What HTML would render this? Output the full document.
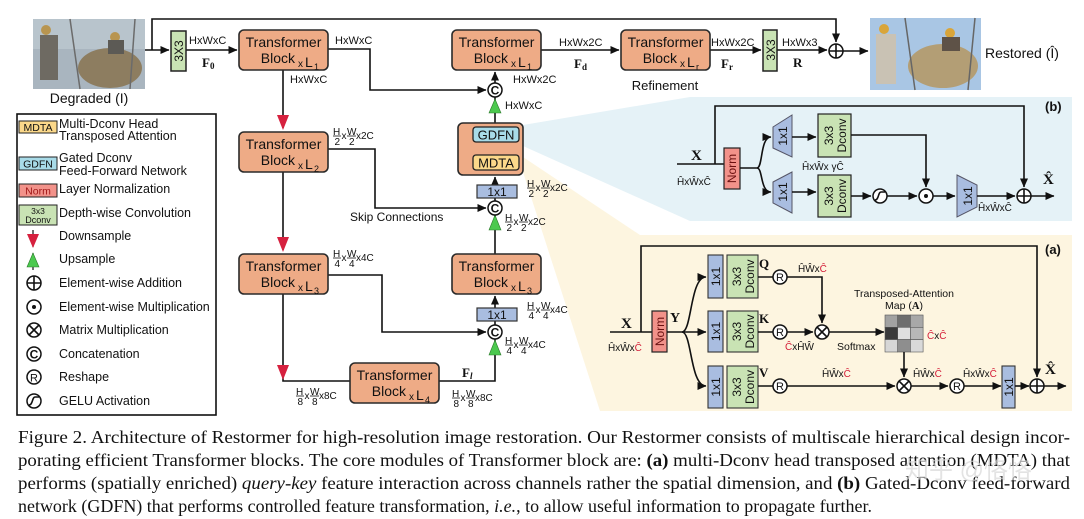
<!DOCTYPE html>
<html><head><meta charset="utf-8"><style>
html,body{margin:0;padding:0;background:#fff;}
svg{display:block;}
text{font-family:"Liberation Sans",sans-serif;fill:#111;}
.s{font-family:"Liberation Serif",serif;font-weight:bold;}
.cap{font-family:"Liberation Serif",serif;font-size:17.5px;fill:#111;}
.ln{stroke:#111;stroke-width:1.6;fill:none;}
.tb{fill:#eeab86;stroke:#2a2a2a;stroke-width:1.6;}
.c{fill:#fff;stroke:#111;stroke-width:1.5;}
.r{fill:#d6213f;}
.g{fill:#4cc94f;stroke:#2a7a2a;stroke-width:.6;}
.red{fill:#d4203a;}
</style></head><body>
<svg width="1084" height="519" viewBox="0 0 1084 519" xmlns="http://www.w3.org/2000/svg">
<defs>
<marker id="a" markerWidth="9" markerHeight="8" refX="8.5" refY="4" orient="auto" markerUnits="userSpaceOnUse"><path d="M0,0 L9,4 L0,8 z" fill="#111"/></marker>
</defs>

<!-- panel backgrounds -->
<polygon points="523,125 690,97 1072,97 1072,221 690,221 523,146" fill="#e5f2f7"/>
<polygon points="523,157 640,235 1072,235 1072,411 600,411 523,172" fill="#fdf5e0"/>

<!-- images -->
<g>
<rect x="33" y="19" width="112" height="70" fill="#a9b5bf"/>
<rect x="33" y="19" width="112" height="30" fill="#b8c4cc"/>
<ellipse cx="110" cy="68" rx="32" ry="20" fill="#8d7d60"/>
<rect x="40" y="35" width="18" height="45" fill="#6e6a62"/>
<circle cx="46" cy="30" r="5" fill="#b89550"/>
<circle cx="115" cy="37" r="5" fill="#b89550"/>
<rect x="108" y="40" width="16" height="14" fill="#5c5a55"/>
<line x1="70" y1="19" x2="80" y2="89" stroke="#6b6b6b" stroke-width="1.5"/>
<line x1="135" y1="19" x2="130" y2="89" stroke="#6b6b6b" stroke-width="1.5"/>
</g>
<text x="89" y="103" font-size="14" text-anchor="middle">Degraded (I)</text>

<g>
<rect x="870" y="18" width="111" height="72" fill="#a9c6e4"/>
<ellipse cx="943" cy="66" rx="35" ry="22" fill="#b39e75"/>
<rect x="876" y="34" width="20" height="50" fill="#c9c2b4"/>
<circle cx="884" cy="29" r="5" fill="#d9a53a"/>
<circle cx="950" cy="33" r="5" fill="#d9a53a"/>
<rect x="942" y="37" width="18" height="14" fill="#5e5247"/>
<line x1="905" y1="18" x2="915" y2="90" stroke="#666" stroke-width="1.5"/>
<line x1="975" y1="18" x2="968" y2="90" stroke="#666" stroke-width="1.5"/>
</g>
<text x="985" y="58" font-size="14">Restored (Î)</text>

<!-- main connectors -->
<path class="ln" d="M145,50 H169" marker-end="url(#a)"/>
<path class="ln" d="M152,50 V19 H836 V42" marker-end="url(#a)"/>
<path class="ln" d="M186,50 H237" marker-end="url(#a)"/>
<path class="ln" d="M328,49 H370 V90 H486" marker-end="url(#a)"/>
<path class="ln" d="M283,70 V128"/>
<polygon class="r" points="277,115 289,115 283,130"/>
<path class="ln" d="M328,149 H375 V208 H486" marker-end="url(#a)"/>
<path class="ln" d="M283,172 V250"/>
<polygon class="r" points="277,237 289,237 283,252"/>
<path class="ln" d="M328,275 H382 V332 H486" marker-end="url(#a)"/>
<path class="ln" d="M283,294 V381 H350"/>
<polygon class="r" points="277,365 289,365 283,380"/>
<path class="ln" d="M438,381 H495 V339"/>
<polygon class="g" points="489,355 501,355 495,340"/>
<path class="ln" d="M495,325 V320"/>
<path class="ln" d="M495,308 V296" marker-end="url(#a)"/>
<path class="ln" d="M495,254 V215"/>
<polygon class="g" points="489,230 501,230 495,215"/>
<path class="ln" d="M495,201 V198"/>
<path class="ln" d="M495,185 V177" marker-end="url(#a)"/>
<path class="ln" d="M495,155 V144" marker-end="url(#a)"/>
<path class="ln" d="M495,123 V97"/>
<polygon class="g" points="489,113 501,113 495,99"/>
<path class="ln" d="M495,83 V72" marker-end="url(#a)"/>
<path class="ln" d="M540,50 H619" marker-end="url(#a)"/>
<path class="ln" d="M710,50 H761" marker-end="url(#a)"/>
<path class="ln" d="M777,50 H827" marker-end="url(#a)"/>
<path class="ln" d="M843,51 H868" marker-end="url(#a)"/>

<!-- 3x3 conv boxes -->
<rect x="171" y="31" width="15" height="40" fill="#c9e3b4" stroke="#222" stroke-width="1.5"/>
<text transform="translate(183,51) rotate(-90)" font-size="12" text-anchor="middle">3X3</text>
<rect x="763" y="30" width="14" height="41" fill="#c9e3b4" stroke="#222" stroke-width="1.5"/>
<text transform="translate(775,50) rotate(-90)" font-size="12" text-anchor="middle">3X3</text>

<!-- top labels -->
<text x="189" y="44" font-size="11">HxWxC</text>
<text x="202" y="67" class="s" font-size="13">F<tspan font-size="9" dy="2">0</tspan></text>
<text x="335" y="44" font-size="11">HxWxC</text>
<text x="290" y="83" font-size="11">HxWxC</text>
<text x="513" y="83" font-size="11">HxWx2C</text>
<text x="505" y="109" font-size="11">HxWxC</text>
<text x="559" y="46" font-size="11">HxWx2C</text>
<text x="574" y="68" class="s" font-size="13">F<tspan font-size="9" dy="2">d</tspan></text>
<text x="665" y="90" font-size="13" text-anchor="middle">Refinement</text>
<text x="711" y="46" font-size="11">HxWx2C</text>
<text x="721" y="68" class="s" font-size="13">F<tspan font-size="9" dy="2">r</tspan></text>
<text x="782" y="46" font-size="11">HxWx3</text>
<text x="793" y="67" class="s" font-size="13">R</text>
<text x="350" y="221" font-size="12">Skip Connections</text>
<text x="462" y="377" class="s" font-size="13">F<tspan font-size="9" dy="2" font-style="italic">l</tspan></text>

<!-- transformer blocks -->
<g font-size="14">
<rect class="tb" x="239" y="30" width="89" height="40" rx="5"/>
<text x="283.5" y="47" text-anchor="middle">Transformer</text><text x="295" y="63" text-anchor="end">Block</text><text x="298" y="67" font-size="10">x</text><text x="305" y="67">L</text><text x="314" y="70" font-size="9">1</text>
<rect class="tb" x="239" y="132" width="89" height="40" rx="5"/>
<text x="283.5" y="149" text-anchor="middle">Transformer</text><text x="295" y="165" text-anchor="end">Block</text><text x="298" y="169" font-size="10">x</text><text x="305" y="169">L</text><text x="314" y="172" font-size="9">2</text>
<rect class="tb" x="239" y="254" width="89" height="40" rx="5"/>
<text x="283.5" y="271" text-anchor="middle">Transformer</text><text x="295" y="287" text-anchor="end">Block</text><text x="298" y="291" font-size="10">x</text><text x="305" y="291">L</text><text x="314" y="294" font-size="9">3</text>
<rect class="tb" x="350" y="363" width="89" height="40" rx="5"/>
<text x="394.5" y="380" text-anchor="middle">Transformer</text><text x="406" y="396" text-anchor="end">Block</text><text x="409" y="400" font-size="10">x</text><text x="416" y="400">L</text><text x="425" y="403" font-size="9">4</text>
<rect class="tb" x="452" y="30" width="89" height="40" rx="5"/>
<text x="496.5" y="47" text-anchor="middle">Transformer</text><text x="508" y="63" text-anchor="end">Block</text><text x="511" y="67" font-size="10">x</text><text x="518" y="67">L</text><text x="527" y="70" font-size="9">1</text>
<rect class="tb" x="452" y="254" width="89" height="40" rx="5"/>
<text x="496.5" y="271" text-anchor="middle">Transformer</text><text x="508" y="287" text-anchor="end">Block</text><text x="511" y="291" font-size="10">x</text><text x="518" y="291">L</text><text x="527" y="294" font-size="9">3</text>
<rect class="tb" x="621" y="30" width="89" height="40" rx="5"/>
<text x="665.5" y="47" text-anchor="middle">Transformer</text><text x="677" y="63" text-anchor="end">Block</text><text x="680" y="67" font-size="10">x</text><text x="687" y="67">L</text><text x="696" y="70" font-size="9">r</text>
</g>

<!-- MDTA/GDFN box -->
<rect class="tb" x="458" y="123" width="65" height="52" rx="5"/>
<rect x="473" y="127" width="46" height="15" rx="3" fill="#a8dbe8" stroke="#222" stroke-width="1.3"/>
<text x="496" y="139.5" font-size="13" text-anchor="middle">GDFN</text>
<rect x="473" y="155" width="46" height="15" rx="3" fill="#fbd88a" stroke="#222" stroke-width="1.3"/>
<text x="496" y="167.5" font-size="13" text-anchor="middle">MDTA</text>
<rect x="477" y="185" width="40" height="13" fill="#a9bde0" stroke="#333" stroke-width="1.2"/>
<text x="497" y="196" font-size="12" text-anchor="middle">1x1</text>
<rect x="477" y="308" width="40" height="13" fill="#a9bde0" stroke="#333" stroke-width="1.2"/>
<text x="497" y="319" font-size="12" text-anchor="middle">1x1</text>

<!-- concat circles -->
<g font-size="12" font-weight="bold" text-anchor="middle">
<circle class="c" cx="495" cy="90" r="7"/><text x="495" y="94.5">C</text>
<circle class="c" cx="495" cy="208" r="7"/><text x="495" y="212.5">C</text>
<circle class="c" cx="495" cy="332" r="7"/><text x="495" y="336.5">C</text>
</g>
<circle class="c" cx="836" cy="51" r="7"/><path class="ln" d="M829,51 H843 M836,44 V58"/>

<!-- fractions -->
<g font-size="10">
<g transform="translate(333,136)"><text x="0" y="-1">H</text><line x1="0" x2="8" y1="0" y2="0" stroke="#111" stroke-width=".8"/><text x="1.5" y="9">2</text><text x="8.5" y="3">x</text><text x="14" y="-1">W</text><line x1="14" x2="23" y1="0" y2="0" stroke="#111" stroke-width=".8"/><text x="16" y="9">2</text><text x="23" y="3">x2C</text></g>
<g transform="translate(333,258)"><text x="0" y="-1">H</text><line x1="0" x2="8" y1="0" y2="0" stroke="#111" stroke-width=".8"/><text x="1.5" y="9">4</text><text x="8.5" y="3">x</text><text x="14" y="-1">W</text><line x1="14" x2="23" y1="0" y2="0" stroke="#111" stroke-width=".8"/><text x="16" y="9">4</text><text x="23" y="3">x4C</text></g>
<g transform="translate(527,188)"><text x="0" y="-1">H</text><line x1="0" x2="8" y1="0" y2="0" stroke="#111" stroke-width=".8"/><text x="1.5" y="9">2</text><text x="8.5" y="3">x</text><text x="14" y="-1">W</text><line x1="14" x2="23" y1="0" y2="0" stroke="#111" stroke-width=".8"/><text x="16" y="9">2</text><text x="23" y="3">x2C</text></g>
<g transform="translate(505,222)"><text x="0" y="-1">H</text><line x1="0" x2="8" y1="0" y2="0" stroke="#111" stroke-width=".8"/><text x="1.5" y="9">2</text><text x="8.5" y="3">x</text><text x="14" y="-1">W</text><line x1="14" x2="23" y1="0" y2="0" stroke="#111" stroke-width=".8"/><text x="16" y="9">2</text><text x="23" y="3">x2C</text></g>
<g transform="translate(527,310)"><text x="0" y="-1">H</text><line x1="0" x2="8" y1="0" y2="0" stroke="#111" stroke-width=".8"/><text x="1.5" y="9">4</text><text x="8.5" y="3">x</text><text x="14" y="-1">W</text><line x1="14" x2="23" y1="0" y2="0" stroke="#111" stroke-width=".8"/><text x="16" y="9">4</text><text x="23" y="3">x4C</text></g>
<g transform="translate(505,345)"><text x="0" y="-1">H</text><line x1="0" x2="8" y1="0" y2="0" stroke="#111" stroke-width=".8"/><text x="1.5" y="9">4</text><text x="8.5" y="3">x</text><text x="14" y="-1">W</text><line x1="14" x2="23" y1="0" y2="0" stroke="#111" stroke-width=".8"/><text x="16" y="9">4</text><text x="23" y="3">x4C</text></g>
<g transform="translate(296,396)"><text x="0" y="-1">H</text><line x1="0" x2="8" y1="0" y2="0" stroke="#111" stroke-width=".8"/><text x="1.5" y="9">8</text><text x="8.5" y="3">x</text><text x="14" y="-1">W</text><line x1="14" x2="23" y1="0" y2="0" stroke="#111" stroke-width=".8"/><text x="16" y="9">8</text><text x="23" y="3">x8C</text></g>
<g transform="translate(452,398)"><text x="0" y="-1">H</text><line x1="0" x2="8" y1="0" y2="0" stroke="#111" stroke-width=".8"/><text x="1.5" y="9">8</text><text x="8.5" y="3">x</text><text x="14" y="-1">W</text><line x1="14" x2="23" y1="0" y2="0" stroke="#111" stroke-width=".8"/><text x="16" y="9">8</text><text x="23" y="3">x8C</text></g>
</g>

<!-- legend -->
<rect x="17" y="114" width="199" height="301" fill="#fff" stroke="#111" stroke-width="1.6"/>
<g font-size="12.5">
<rect x="19" y="121" width="38" height="12" fill="#fbd88a" stroke="#222"/><text x="38" y="131" font-size="10.5" text-anchor="middle">MDTA</text>
<text x="59" y="128">Multi-Dconv Head</text><text x="59" y="140">Transposed Attention</text>
<rect x="19" y="157" width="38" height="13" fill="#a8dbe8" stroke="#222"/><text x="38" y="167.5" font-size="10.5" text-anchor="middle">GDFN</text>
<text x="59" y="162">Gated Dconv</text><text x="59" y="175">Feed-Forward Network</text>
<rect x="19" y="184" width="38" height="13" fill="#f2928a" stroke="#222"/><text x="38" y="194.5" font-size="10.5" text-anchor="middle" fill="#a01818" style="fill:#a01818">Norm</text>
<text x="59" y="193">Layer Normalization</text>
<rect x="19" y="205" width="38" height="20" fill="#c9e3b4" stroke="#222"/><text x="38" y="214" font-size="8.5" text-anchor="middle">3x3</text><text x="38" y="223" font-size="9" text-anchor="middle">Dconv</text>
<text x="59" y="217">Depth-wise Convolution</text>
<line x1="33" y1="230" x2="33" y2="247" stroke="#111" stroke-width="1.2"/><polygon class="r" points="27,234 39,234 33,248"/>
<text x="59" y="240">Downsample</text>
<line x1="33" y1="253" x2="33" y2="270" stroke="#111" stroke-width="1.2"/><polygon class="g" points="27,267 39,267 33,253"/>
<text x="59" y="263">Upsample</text>
<circle class="c" cx="34" cy="283" r="7"/><path class="ln" d="M27,283 H41 M34,276 V290"/>
<text x="59" y="287">Element-wise Addition</text>
<circle class="c" cx="34" cy="307" r="7"/><circle cx="34" cy="307" r="2" fill="#111"/>
<text x="59" y="311">Element-wise Multiplication</text>
<circle class="c" cx="34" cy="330" r="7"/><path class="ln" d="M29,325 L39,335 M39,325 L29,335"/>
<text x="59" y="334">Matrix Multiplication</text>
<circle class="c" cx="34" cy="354" r="7"/><text x="34" y="358.5" font-size="12" font-weight="bold" text-anchor="middle">C</text>
<text x="59" y="358">Concatenation</text>
<circle class="c" cx="34" cy="377" r="7"/><text x="34" y="381.5" font-size="11" text-anchor="middle">R</text>
<text x="59" y="381">Reshape</text>
<circle class="c" cx="34" cy="401" r="7"/><path class="ln" d="M29,405 C33,405 32,397 35,397 C37,397 38,397 39,397" stroke-width="1.2"/>
<text x="59" y="405">GELU Activation</text>
</g>

<!-- panel (b) -->
<text x="1045" y="111" font-size="13" font-weight="bold">(b)</text>
<path class="ln" d="M715,164 V106 H1024 V187" marker-end="url(#a)"/>
<path class="ln" d="M677,164 H724"/>
<text x="691" y="160" class="s" font-size="15">X</text>
<text x="677" y="185" font-size="10">ĤxŴxĈ</text>
<rect x="724" y="148" width="16" height="41" fill="#f2928a" stroke="#222" stroke-width="1.2"/>
<text transform="translate(736,168.5) rotate(-90)" font-size="12" text-anchor="middle" style="fill:#6a1010">Norm</text>
<path class="ln" d="M740,168 H757 C763,168 760,137 771,137" marker-end="url(#a)"/>
<path class="ln" d="M757,168 C763,168 760,192 771,192" marker-end="url(#a)"/>
<polygon points="773,127 792,115 792,157 773,148" fill="#a9bde0" stroke="#556" stroke-width="1"/>
<text transform="translate(787,136) rotate(-90)" font-size="12" text-anchor="middle">1x1</text>
<polygon points="773,182 792,172 792,213 773,203" fill="#a9bde0" stroke="#556" stroke-width="1"/>
<text transform="translate(787,192) rotate(-90)" font-size="12" text-anchor="middle">1x1</text>
<path class="ln" d="M792,137 H816" marker-end="url(#a)"/>
<path class="ln" d="M792,192 H816" marker-end="url(#a)"/>
<rect x="818" y="114" width="33" height="43" fill="#c9e3b4" stroke="#222" stroke-width="1.2"/>
<text transform="translate(833,135.5) rotate(-90)" font-size="12" text-anchor="middle">3x3</text>
<text transform="translate(846,135.5) rotate(-90)" font-size="12" text-anchor="middle">Dconv</text>
<rect x="818" y="175" width="33" height="42" fill="#c9e3b4" stroke="#222" stroke-width="1.2"/>
<text transform="translate(833,196) rotate(-90)" font-size="12" text-anchor="middle">3x3</text>
<text transform="translate(846,196) rotate(-90)" font-size="12" text-anchor="middle">Dconv</text>
<text x="802" y="170" font-size="10">ĤxŴx γĈ</text>
<path class="ln" d="M851,135 H926 V187" marker-end="url(#a)"/>
<path class="ln" d="M851,196 H871" marker-end="url(#a)"/>
<circle class="c" cx="880" cy="196" r="7"/><path class="ln" d="M875,200 C879,200 878,192 881,192 L885,192" stroke-width="1.2"/>
<path class="ln" d="M887,196 H917" marker-end="url(#a)"/>
<circle class="c" cx="926" cy="196" r="7"/><circle cx="926" cy="196" r="2" fill="#111"/>
<path class="ln" d="M933,196 H955" marker-end="url(#a)"/>
<polygon points="957,175 977,185 977,207 957,217" fill="#a9bde0" stroke="#556" stroke-width="1"/>
<text transform="translate(972,196) rotate(-90)" font-size="12" text-anchor="middle">1x1</text>
<path class="ln" d="M977,196 H1015" marker-end="url(#a)"/>
<circle class="c" cx="1024" cy="196" r="7"/><path class="ln" d="M1017,196 H1031 M1024,189 V203"/>
<path class="ln" d="M1031,196 H1054" marker-end="url(#a)"/>
<text x="1043" y="184" class="s" font-size="15">X̂</text>
<text x="978" y="211" font-size="10">ĤxŴxĈ</text>

<!-- panel (a) -->
<text x="1045" y="254" font-size="13" font-weight="bold">(a)</text>
<path class="ln" d="M641,332 V246 H1037 V377" marker-end="url(#a)"/>
<path class="ln" d="M610,332 H652"/>
<text x="621" y="328" class="s" font-size="15">X</text>
<text x="608" y="351" font-size="10">ĤxŴx<tspan class="red">Ĉ</tspan></text>
<rect x="652" y="311" width="15" height="41" fill="#f2928a" stroke="#222" stroke-width="1.2"/>
<text transform="translate(664,331.5) rotate(-90)" font-size="12" text-anchor="middle" style="fill:#6a1010">Norm</text>
<text x="670" y="322" class="s" font-size="14">Y</text>
<path class="ln" d="M667,332 H706" marker-end="url(#a)"/>
<path class="ln" d="M682,332 C692,332 690,277 706,277" marker-end="url(#a)"/>
<path class="ln" d="M682,332 C692,332 690,386 706,386" marker-end="url(#a)"/>
<g font-size="12">
<rect x="708" y="255" width="15" height="43" fill="#a9bde0" stroke="#333" stroke-width="1.1"/><text transform="translate(720,276.5) rotate(-90)" text-anchor="middle">1x1</text>
<rect x="727" y="255" width="31" height="43" fill="#c9e3b4" stroke="#333" stroke-width="1.1"/><text transform="translate(741,276.5) rotate(-90)" text-anchor="middle">3x3</text><text transform="translate(754,276.5) rotate(-90)" text-anchor="middle">Dconv</text>
<rect x="708" y="311" width="15" height="41" fill="#a9bde0" stroke="#333" stroke-width="1.1"/><text transform="translate(720,331.5) rotate(-90)" text-anchor="middle">1x1</text>
<rect x="727" y="311" width="31" height="41" fill="#c9e3b4" stroke="#333" stroke-width="1.1"/><text transform="translate(741,331.5) rotate(-90)" text-anchor="middle">3x3</text><text transform="translate(754,331.5) rotate(-90)" text-anchor="middle">Dconv</text>
<rect x="708" y="366" width="15" height="42" fill="#a9bde0" stroke="#333" stroke-width="1.1"/><text transform="translate(720,387) rotate(-90)" text-anchor="middle">1x1</text>
<rect x="727" y="366" width="31" height="42" fill="#c9e3b4" stroke="#333" stroke-width="1.1"/><text transform="translate(741,387) rotate(-90)" text-anchor="middle">3x3</text><text transform="translate(754,387) rotate(-90)" text-anchor="middle">Dconv</text>
</g>
<text x="759" y="268" class="s" font-size="13">Q</text>
<text x="759" y="323" class="s" font-size="13">K</text>
<text x="759" y="377" class="s" font-size="13">V</text>
<path class="ln" d="M758,277 H773 M758,332 H773 M758,386 H773"/>
<g font-size="11" text-anchor="middle">
<circle class="c" cx="780" cy="277" r="7"/><text x="780" y="281">R</text>
<circle class="c" cx="780" cy="332" r="7"/><text x="780" y="336">R</text>
<circle class="c" cx="780" cy="386" r="7"/><text x="780" y="390">R</text>
<circle class="c" cx="957" cy="386" r="7"/><text x="957" y="390">R</text>
</g>
<path class="ln" d="M787,277 H822 V323" marker-end="url(#a)"/>
<path class="ln" d="M787,332 H813" marker-end="url(#a)"/>
<circle class="c" cx="822" cy="332" r="7"/><path class="ln" d="M817,327 L827,337 M827,327 L817,337"/>
<path class="ln" d="M829,332 H884" marker-end="url(#a)"/>
<text x="798" y="272" font-size="10">ĤŴx<tspan class="red">Ĉ</tspan></text>
<text x="785" y="350" font-size="10"><tspan class="red">Ĉ</tspan>xĤŴ</text>
<text x="837" y="350" font-size="10.5">Softmax</text>
<text x="904" y="297" font-size="10.5" text-anchor="middle">Transposed-Attention</text>
<text x="904" y="309" font-size="10.5" text-anchor="middle">Map (<tspan class="s">A</tspan>)</text>
<g stroke="#555" stroke-width=".6">
<rect x="885" y="315" width="12.7" height="12.3" fill="#a2a2a2"/><rect x="897.7" y="315" width="12.7" height="12.3" fill="#6e6e6e"/><rect x="910.4" y="315" width="12.7" height="12.3" fill="#a8a8a8"/>
<rect x="885" y="327.3" width="12.7" height="12.3" fill="#3a3a3a"/><rect x="897.7" y="327.3" width="12.7" height="12.3" fill="#e0e0e0"/><rect x="910.4" y="327.3" width="12.7" height="12.3" fill="#b8b8b8"/>
<rect x="885" y="339.6" width="12.7" height="12.4" fill="#d6d6d6"/><rect x="897.7" y="339.6" width="12.7" height="12.4" fill="#8e8e8e"/><rect x="910.4" y="339.6" width="12.7" height="12.4" fill="#d9d9d9"/>
</g>
<text x="927" y="339" font-size="10"><tspan class="red">Ĉ</tspan>x<tspan class="red">Ĉ</tspan></text>
<path class="ln" d="M904,352 V377" marker-end="url(#a)"/>
<path class="ln" d="M787,386 H895" marker-end="url(#a)"/>
<circle class="c" cx="904" cy="386" r="7"/><path class="ln" d="M899,381 L909,391 M909,381 L899,391"/>
<path class="ln" d="M911,386 H948" marker-end="url(#a)"/>
<path class="ln" d="M964,386 H1001" marker-end="url(#a)"/>
<rect x="1002" y="366" width="13" height="42" fill="#a9bde0" stroke="#333" stroke-width="1.1"/>
<text transform="translate(1013,387) rotate(-90)" font-size="12" text-anchor="middle">1x1</text>
<path class="ln" d="M1015,386 H1029" marker-end="url(#a)"/>
<circle class="c" cx="1037" cy="386" r="7"/><path class="ln" d="M1030,386 H1044 M1037,379 V393"/>
<path class="ln" d="M1044,386 H1066" marker-end="url(#a)"/>
<text x="1045" y="374" class="s" font-size="15">X̂</text>
<text x="822" y="377" font-size="10">ĤŴx<tspan class="red">Ĉ</tspan></text>
<text x="913" y="377" font-size="10">ĤŴx<tspan class="red">Ĉ</tspan></text>
<text x="963" y="377" font-size="10">ĤxŴx<tspan class="red">Ĉ</tspan></text>

<!-- caption -->
<text class="cap" x="18" y="443" textLength="1052" lengthAdjust="spacingAndGlyphs">Figure 2. Architecture of Restormer for high-resolution image restoration. Our Restormer consists of multiscale hierarchical design incor-</text>
<text class="cap" x="18" y="466" textLength="1052" lengthAdjust="spacingAndGlyphs">porating efficient Transformer blocks. The core modules of Transformer block are: <tspan font-weight="bold">(a)</tspan> multi-Dconv head transposed attention (MDTA) that</text>
<text class="cap" x="18" y="489" textLength="1052" lengthAdjust="spacingAndGlyphs">performs (spatially enriched) <tspan font-style="italic">query-key</tspan> feature interaction across channels rather the spatial dimension, and <tspan font-weight="bold">(b)</tspan> Gated-Dconv feed-forward</text>
<text class="cap" x="18" y="512" textLength="854" lengthAdjust="spacingAndGlyphs">network (GDFN) that performs controlled feature transformation, <tspan font-style="italic">i.e.</tspan>, to allow useful information to propagate further.</text>
<text x="905" y="478" font-size="24" style="fill:#d8d8d8;opacity:.7;font-family:'Liberation Sans','Noto Sans CJK SC',sans-serif">知乎 @恪恪</text>
</svg>
</body></html>
